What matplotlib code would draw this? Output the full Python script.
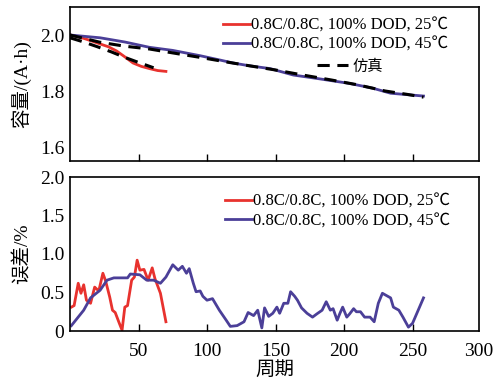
import matplotlib
matplotlib.use("Agg")
import matplotlib.pyplot as plt
from matplotlib.lines import Line2D

plt.rcParams['font.family'] = ['Liberation Serif', 'Noto Sans CJK SC', 'DejaVu Sans']
plt.rcParams['mathtext.fontset'] = 'stix'

RED = '#e8322e'
BLUE = '#4b3f98'

labels = ['0.8C/0.8C, 100% DOD, 25℃', '0.8C/0.8C, 100% DOD, 45℃', '仿真']

# capacity (A·h) vs cycle
cyc_25 = [0, 5, 10, 15, 22, 28, 34, 40, 46, 52, 58, 64, 70]
cap_25 = [2.0, 1.995, 1.988, 1.98, 1.968, 1.958, 1.943, 1.922, 1.90, 1.888, 1.88, 1.873, 1.87]
sim_cyc_25 = [0, 10, 20, 30, 40, 50, 61]
sim_cap_25 = [1.99, 1.975, 1.958, 1.94, 1.92, 1.902, 1.883]

cyc_45 = [0, 22, 40, 58, 75, 95, 110, 119, 131, 146, 163, 180, 204, 221, 234, 246, 258]
cap_45 = [2.0, 1.99, 1.975, 1.956, 1.945, 1.926, 1.91, 1.90, 1.89, 1.88, 1.857, 1.845, 1.827, 1.81, 1.792, 1.787, 1.782]
sim_cyc_45 = [0, 22, 40, 58, 75, 95, 115, 131, 150, 170, 190, 210, 230, 246, 258]
sim_cap_45 = [2.0, 1.974, 1.96, 1.95, 1.936, 1.92, 1.903, 1.89, 1.875, 1.857, 1.84, 1.822, 1.8, 1.788, 1.778]

# error (%) vs cycle
err_cyc_25 = [1, 3, 6, 8, 10, 12, 15, 18, 21, 24, 26, 29, 31, 33, 36, 38, 40, 42, 45, 47, 49, 51, 54, 57, 60, 62, 66, 70]
err_25 = [0.31, 0.33, 0.62, 0.49, 0.60, 0.40, 0.36, 0.57, 0.52, 0.75, 0.65, 0.44, 0.27, 0.24, 0.10, 0.01, 0.31, 0.33, 0.66, 0.70, 0.92, 0.79, 0.80, 0.66, 0.82, 0.68, 0.49, 0.12]

err_cyc_45 = [1, 10, 15, 22, 27, 32, 42, 44, 51, 56, 61, 66, 70, 75, 79, 82, 85, 87, 90, 92, 95, 97, 100, 104, 109, 114, 117, 122, 127, 130,
              134, 137, 140, 142, 145, 148, 151, 153, 156, 159, 161, 164, 166, 169, 173, 177, 180, 184, 187, 190, 192, 195, 197, 199, 202,
              204, 207, 209, 212, 215, 219, 222, 225, 228, 232, 234, 236, 240, 243, 247, 250, 258]
err_45 = [0.07, 0.27, 0.43, 0.53, 0.66, 0.69, 0.69, 0.74, 0.73, 0.66, 0.66, 0.62, 0.70, 0.86, 0.79, 0.84, 0.75, 0.81, 0.62, 0.51, 0.52, 0.45, 0.40, 0.42, 0.27, 0.14, 0.06, 0.07, 0.12, 0.24,
          0.20, 0.27, 0.04, 0.30, 0.19, 0.23, 0.31, 0.23, 0.36, 0.36, 0.51, 0.45, 0.40, 0.30, 0.23, 0.18, 0.22, 0.27, 0.38, 0.27, 0.29, 0.14, 0.23, 0.31, 0.18,
          0.22, 0.29, 0.25, 0.25, 0.18, 0.18, 0.12, 0.36, 0.49, 0.45, 0.43, 0.31, 0.27, 0.18, 0.05, 0.10, 0.43]

fig = plt.figure(figsize=(5.01, 3.87), dpi=100)
W, H = 501, 387
ax1 = fig.add_axes([70 / W, 1 - 161 / H, 409 / W, 154 / H])
ax2 = fig.add_axes([70 / W, 1 - 331 / H, 409 / W, 154 / H])

lw = 2.0
dash = (0, (4, 2.5))
ax1.plot(cyc_25, cap_25, color=RED, lw=lw)
ax1.plot(cyc_45, cap_45, color=BLUE, lw=lw)
ax1.plot(sim_cyc_25, sim_cap_25, color='black', lw=2.2, ls=dash)
ax1.plot(sim_cyc_45, sim_cap_45, color='black', lw=2.2, ls=dash)

ax1.set_xlim(0, 298.5)
ax1.set_ylim(1.55, 2.1)
ax1.set_yticks([1.6, 1.8, 2.0])
ax1.set_yticklabels(['1.6', '1.8', '2.0'])
ax1.set_xticks([50, 100, 150, 200, 250])
ax1.tick_params(axis='x', direction='in', length=5, width=1, labelbottom=False)
ax1.tick_params(axis='y', length=0, labelsize=14, pad=4)
ax1.set_ylabel('容量/(A·h)', fontsize=14, labelpad=6)

h1 = [Line2D([], [], color=RED, lw=lw), Line2D([], [], color=BLUE, lw=lw)]
leg_kw = dict(frameon=False, fontsize=12, handlelength=1.6, handletextpad=0.1,
              borderaxespad=0.0, labelspacing=0.2, borderpad=0.0)
leg1 = ax1.legend(h1, labels[:2], loc='upper right', bbox_to_anchor=(0.925, 0.93), **leg_kw)
ax1.add_artist(leg1)
h2 = [Line2D([], [], color='black', lw=2.2, ls=dash)]
ax1.legend(h2, labels[2:], loc='upper left', bbox_to_anchor=(0.605, 0.67), frameon=False,
           handlelength=2.0, handletextpad=0.3, borderaxespad=0.0, borderpad=0.0,
           prop={'family': ['Noto Sans CJK SC'], 'size': 11})

ax2.plot(err_cyc_25, err_25, color=RED, lw=lw)
ax2.plot(err_cyc_45, err_45, color=BLUE, lw=lw)
ax2.set_xlim(0, 298.5)
ax2.set_ylim(0, 2.0)
ax2.set_yticks([0, 0.5, 1.0, 1.5, 2.0])
ax2.set_yticklabels(['0', '0.5', '1.0', '1.5', '2.0'])
ax2.set_xticks([50, 100, 150, 200, 250, 298.5])
ax2.set_xticklabels(['50', '100', '150', '200', '250', '300'])
ax2.tick_params(axis='x', direction='in', length=5, width=1, labelsize=14, pad=9)
ax2.tick_params(axis='y', length=0, labelsize=14, pad=4)
ax2.xaxis.get_major_ticks()[-1].tick1line.set_visible(False)
ax2.set_ylabel('误差/%', fontsize=14, labelpad=6)
ax2.set_xlabel('周期', fontsize=14, labelpad=0)
ax2.legend(h1, labels[:2], loc='upper right', bbox_to_anchor=(0.93, 0.89), **leg_kw)

for ax in (ax1, ax2):
    for s in ax.spines.values():
        s.set_linewidth(1.2)

fig.savefig('out.png', dpi=100)
